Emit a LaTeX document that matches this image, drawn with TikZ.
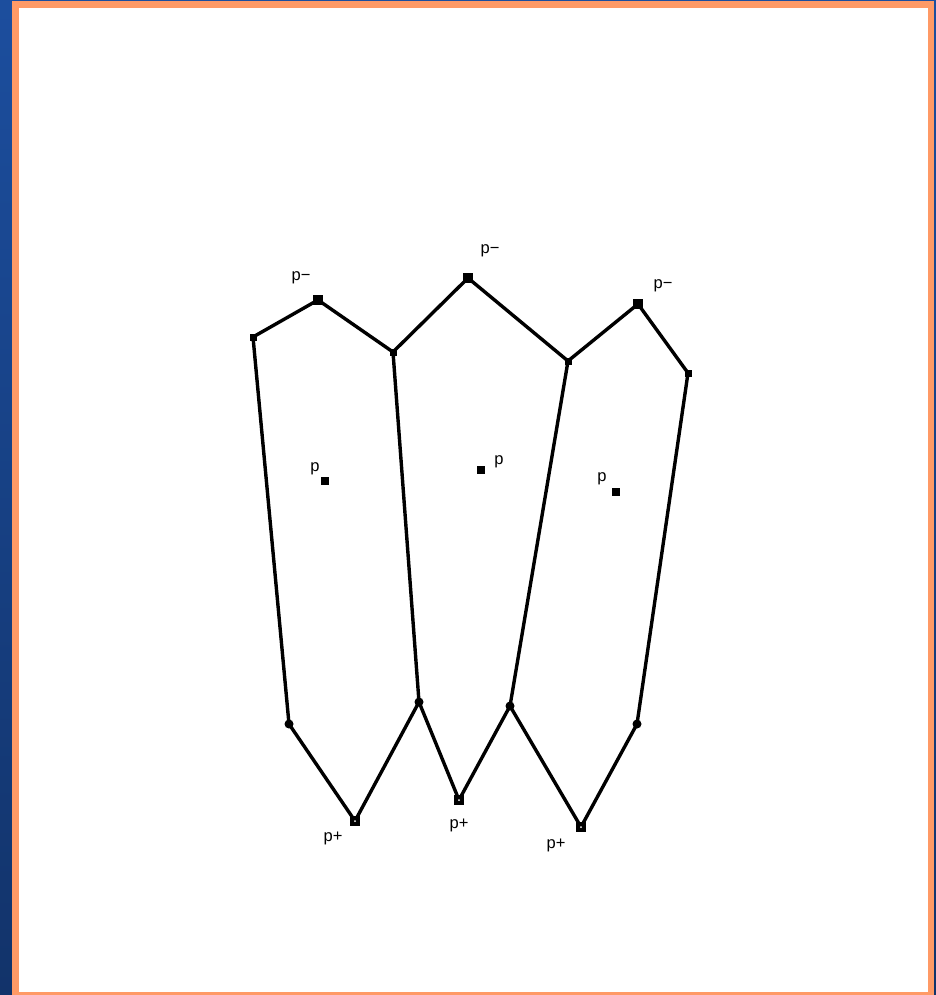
\documentclass[tikz,border=0pt]{standalone}
\usepackage{fontspec}
\setmainfont{Liberation Sans}
\definecolor{frameorange}{HTML}{FF9A66}
\definecolor{deskblue}{HTML}{1C4E9E}
\definecolor{deskdark}{HTML}{12336A}
\tikzset{
  edge/.style={line width=3.4pt, line join=round},
  corner/.style={fill=black, minimum size=7pt, inner sep=0pt, outer sep=0pt},
  tipbox/.style={fill=black, minimum size=10pt, inner sep=0pt, outer sep=0pt},
  knot/.style={circle, fill=black, minimum size=9pt, inner sep=0pt, outer sep=0pt},
  centrebox/.style={fill=black, minimum size=8pt, inner sep=0pt},
  lab/.style={font=\fontsize{16.5}{18}\selectfont, inner sep=0pt, yshift=-3pt}
}
\begin{document}
\begin{tikzpicture}[x=1pt, y=-1pt]
    % Window frame
    \useasboundingbox (0,0) rectangle (936,995);
    \shade[top color=deskblue, bottom color=deskdark] (0,0) rectangle (936,995);
    \fill[frameorange] (12,1) rectangle (934,995);
    \fill[white] (19,8) rectangle (928,992);

    % Top chain points
    \node[corner] (a1) at (253,337) {};
    \node[tipbox] (m1) at (318,300) {};
    \node[corner] (a2) at (393,352) {};
    \node[tipbox] (m2) at (468,278) {};
    \node[corner] (a3) at (568,361) {};
    \node[tipbox] (m3) at (638,304) {};
    \node[corner] (a4) at (688,373) {};

    % Bottom chain points
    \node[knot] (b1) at (289,724) {};
    \node[tipbox] (n1) at (355,821) {};
    \node[knot] (b2) at (419,702) {};
    \node[tipbox] (n2) at (459,800) {};
    \node[knot] (b3) at (510,706) {};
    \node[tipbox] (n3) at (581,827) {};
    \node[knot] (b4) at (637,724) {};

    % Cell centres
    \node[centrebox] (c1) at (325,481) {};
    \node[centrebox] (c2) at (481,470) {};
    \node[centrebox] (c3) at (616,492) {};

    % Edges
    \draw[edge] (a1.center) -- (m1.center) -- (a2.center) -- (m2.center)
        -- (a3.center) -- (m3.center) -- (a4.center);
    \draw[edge] (b1.center) -- (n1.center) -- (b2.center) -- (n2.center)
        -- (b3.center) -- (n3.center) -- (b4.center);
    \draw[edge] (a1.center) -- (b1.center);
    \draw[edge] (a2.center) -- (b2.center);
    \draw[edge] (a3.center) -- (b3.center);
    \draw[edge] (a4.center) -- (b4.center);

    % Small white dots in the p+ squares
    \foreach \n in {n1,n2,n3}
        \fill[white] (\n.center) circle (1pt);

    % Labels
    \node[lab] at (301,275) {p−};
    \node[lab] at (490,248) {p−};
    \node[lab] at (663,283) {p−};
    \node[lab] at (333,835) {p+};
    \node[lab] at (459,822) {p+};
    \node[lab] at (556,842) {p+};
    \node[lab] at (315,466) {p};
    \node[lab] at (499,459) {p};
    \node[lab] at (602,476) {p};
\end{tikzpicture}
\end{document}
